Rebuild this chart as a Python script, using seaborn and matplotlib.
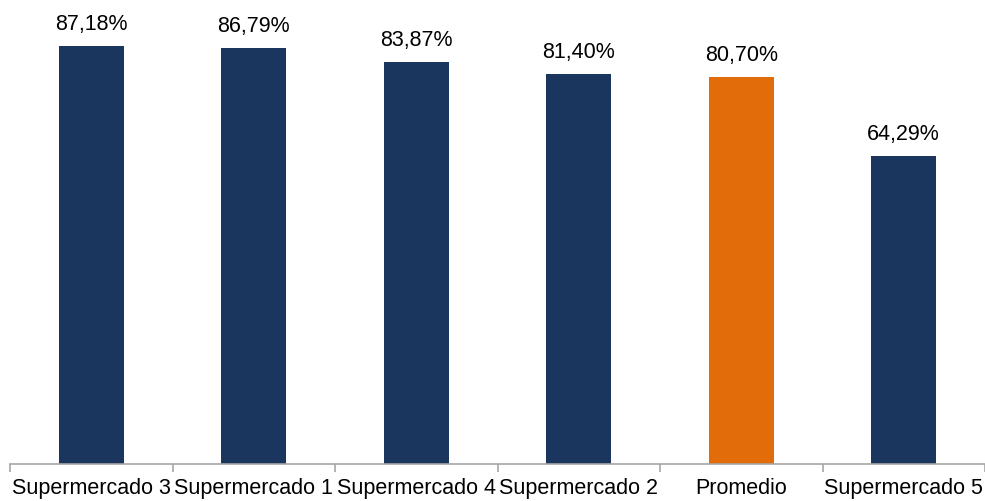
import matplotlib
matplotlib.use('Agg')
import matplotlib.pyplot as plt
import seaborn as sns
import pandas as pd
import numpy as np

# Data
categories = ['Supermercado 3', 'Supermercado 1', 'Supermercado 4',
              'Supermercado 2', 'Promedio', 'Supermercado 5']
values = [87.18, 86.79, 83.87, 81.40, 80.70, 64.29]
labels = ['87,18%', '86,79%', '83,87%', '81,40%', '80,70%', '64,29%']
colors = ['#1a365e', '#1a365e', '#1a365e', '#1a365e', '#e36c0a', '#1a365e']

sns.set_style('white')
plt.rcParams['font.family'] = ['Liberation Sans', 'DejaVu Sans']

df = pd.DataFrame({'cat': categories, 'val': values})

fig = plt.figure(figsize=(9.85, 5.01), dpi=100)
ax = fig.add_axes([10 / 985, 37 / 501, 975 / 985, 464 / 501])

sns.barplot(data=df, x='cat', y='val', hue='cat', palette=colors,
            width=0.4, legend=False, ax=ax, saturation=1, linewidth=0)

# value labels above the bars
for i, (v, lab) in enumerate(zip(values, labels)):
    ax.annotate(lab, (i, v), xytext=(0, 8), textcoords='offset points',
                ha='center', va='bottom', fontsize=15.5, color='black')

ax.set_xlim(-0.5, len(categories) - 0.5)
ax.set_ylim(0, 96.8)
ax.set_xlabel('')
ax.set_ylabel('')
ax.set_yticks([])

for s in ['top', 'right', 'left']:
    ax.spines[s].set_visible(False)
ax.spines['bottom'].set_color('#a6a6a6')
ax.spines['bottom'].set_linewidth(1.2)

# category labels centred, tick marks between categories
ax.tick_params(axis='x', which='major', length=0, labelsize=15.5, pad=10,
               labelcolor='black')
ax.set_xticks(np.arange(-0.5, len(categories)), minor=True)
ax.tick_params(axis='x', which='minor', bottom=True, length=6,
               color='#a6a6a6', width=1.2, direction='out')

fig.savefig('out.png', dpi=100)
